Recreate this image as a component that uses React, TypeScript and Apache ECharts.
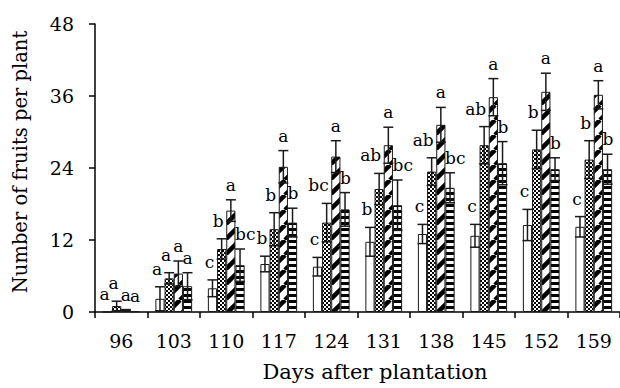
import React, { useEffect, useRef } from 'react';
import * as echarts from 'echarts';

// Days after plantation (categories)
const days = ['96', '103', '110', '117', '124', '131', '138', '145', '152', '159'];

// Four treatments: mean number of fruits per plant
const t1Mean = [0, 2.2, 3.95, 8.0, 7.55, 11.7, 13.0, 12.7, 14.5, 14.2];
const t2Mean = [1.0, 5.6, 10.5, 13.8, 14.9, 20.5, 23.4, 27.8, 27.1, 25.4];
const t3Mean = [0.3, 6.4, 16.9, 24.2, 25.9, 27.8, 31.2, 35.8, 36.7, 36.2];
const t4Mean = [0.1, 4.3, 7.8, 14.9, 17.1, 17.8, 20.7, 24.8, 23.8, 23.8];

// Standard deviations (error bars)
const t1Sd = [0, 2.0, 1.4, 1.3, 1.55, 2.4, 1.6, 1.9, 2.6, 1.7];
const t2Sd = [0.8, 0.95, 1.7, 2.75, 3.2, 2.6, 2.3, 3.1, 3.2, 3.15];
const t3Sd = [0.1, 2.1, 1.8, 2.7, 2.65, 3.0, 2.9, 3.1, 3.1, 2.35];
const t4Sd = [0, 2.25, 2.7, 2.4, 2.8, 4.2, 2.5, 3.6, 1.9, 2.5];

// Significance letters
const t1Letters = ['a', 'a', 'c', 'b', 'c', 'b', 'c', 'c', 'c', 'c'];
const t2Letters = ['a', 'a', 'b', 'b', 'bc', 'ab', 'ab', 'ab', 'b', 'b'];
const t3Letters = ['a', 'a', 'a', 'a', 'a', 'a', 'a', 'a', 'a', 'a'];
const t4Letters = ['a', 'a', 'bc', 'b', 'b', 'bc', 'bc', 'b', 'b', 'b'];

const yTicks = { min: 0, max: 48, interval: 12 };

const FONT = '"DejaVu Serif", serif';

function makeCanvas(w: number, h: number, draw: (ctx: CanvasRenderingContext2D) => void) {
  const c = document.createElement('canvas');
  c.width = w;
  c.height = h;
  const ctx = c.getContext('2d') as CanvasRenderingContext2D;
  ctx.fillStyle = '#fff';
  ctx.fillRect(0, 0, w, h);
  draw(ctx);
  return c;
}

function patterns() {
  const checker = makeCanvas(4, 4, (ctx) => {
    ctx.fillStyle = '#000';
    ctx.fillRect(0, 0, 2, 2);
    ctx.fillRect(2, 2, 2, 2);
  });
  const diag = makeCanvas(15, 15, (ctx) => {
    ctx.strokeStyle = '#000';
    ctx.lineWidth = 4.5;
    for (const k of [-15, 0, 15]) {
      ctx.beginPath();
      ctx.moveTo(k, 15);
      ctx.lineTo(k + 15, 0);
      ctx.stroke();
    }
  });
  const horiz = makeCanvas(4, 6, (ctx) => {
    ctx.fillStyle = '#000';
    ctx.fillRect(0, 0, 4, 3);
  });
  return {
    white: '#ffffff',
    checker: { image: checker, repeat: 'repeat', imageWidth: 4, imageHeight: 4 },
    diag: { image: diag, repeat: 'repeat', imageWidth: 15, imageHeight: 15 },
    horiz: { image: horiz, repeat: 'repeat', imageWidth: 4, imageHeight: 6 },
  };
}

const BAR_FRAC = 0.175;

export default function App() {
  const ref = useRef<HTMLDivElement>(null);
  useEffect(() => {
    if (!ref.current) return;
    document.body.style.margin = '0';
    const chart = echarts.init(ref.current, null, { renderer: 'svg' });
    const p = patterns();
    const means = [t1Mean, t2Mean, t3Mean, t4Mean];
    const sds = [t1Sd, t2Sd, t3Sd, t4Sd];
    const letters = [t1Letters, t2Letters, t3Letters, t4Letters];
    const fills: any[] = [p.white, p.checker, p.diag, p.horiz];
    const labelAlign = ['center', 'right', 'center', 'left'];
    const labelDx = [-3, 2, 0, -5];
    const labelGap = [9.5, 9.5, 6.5, 6.5];

    const barSeries = means.map((m, si) => ({
      type: 'bar',
      name: 'T' + (si + 1),
      data: m,
      barWidth: BAR_FRAC * 100 + '%',
      barGap: '0%',
      z: 2,
      itemStyle: { color: fills[si], borderColor: '#1a1a1a', borderWidth: 1 },
    }));

    const errSeries = means.map((m, si) => ({
      type: 'custom',
      name: 'err' + (si + 1),
      z: 5,
      data: m.map((v, i) => [i, v, sds[si][i]]),
      renderItem: (params: any, api: any) => {
        const ci = api.value(0);
        const mean = api.value(1);
        const sd = api.value(2);
        const band = api.size([1, 0])[0];
        const bw = band * BAR_FRAC;
        const xc = api.coord([ci, 0])[0] + (si - 1.5) * bw;
        const yTop = api.coord([ci, mean + sd])[1];
        const yBot = api.coord([ci, Math.max(mean - sd, 0)])[1];
        const stroke = { stroke: '#1a1a1a', lineWidth: 1.5 };
        const children: any[] = [];
        if (sd > 0) {
          children.push({ type: 'line', shape: { x1: xc, y1: yTop, x2: xc, y2: yBot }, style: stroke });
          children.push({ type: 'line', shape: { x1: xc - 5, y1: yTop, x2: xc + 5, y2: yTop }, style: stroke });
          children.push({ type: 'line', shape: { x1: xc - 5, y1: yBot, x2: xc + 5, y2: yBot }, style: stroke });
        }
        children.push({
          type: 'text',
          x: xc + labelDx[si],
          y: yTop - labelGap[si],
          style: {
            text: letters[si][params.dataIndex],
            fontFamily: FONT,
            fontSize: 17,
            fill: '#000',
            align: labelAlign[si],
            verticalAlign: 'bottom',
          },
        });
        return { type: 'group', children };
      },
    }));

    chart.setOption({
      animation: false,
      grid: { left: 95, top: 24, width: 533, height: 288 },
      xAxis: {
        type: 'category',
        data: days,
        axisLine: { lineStyle: { color: '#000', width: 1.5 } },
        axisTick: { show: true, length: 6, lineStyle: { color: '#000', width: 1.5 } },
        axisLabel: { fontFamily: FONT, fontSize: 19, color: '#000', margin: 19 },
      },
      yAxis: {
        type: 'value',
        min: yTicks.min,
        max: yTicks.max,
        interval: yTicks.interval,
        splitLine: { show: false },
        axisLine: { show: true, lineStyle: { color: '#000', width: 1.5 } },
        axisTick: { show: true, length: 6, lineStyle: { color: '#000', width: 1.5 } },
        axisLabel: { fontFamily: FONT, fontSize: 19, color: '#000', margin: 21 },
      },
      graphic: [
        {
          type: 'text',
          x: 20,
          y: 162,
          rotation: Math.PI / 2,
          style: {
            text: 'Number of fruits per plant',
            fontFamily: FONT,
            fontSize: 19.5,
            fill: '#000',
            align: 'center',
            verticalAlign: 'middle',
          },
        },
        {
          type: 'text',
          x: 375,
          y: 372,
          style: {
            text: 'Days after plantation',
            fontFamily: FONT,
            fontSize: 21,
            fill: '#000',
            align: 'center',
            verticalAlign: 'middle',
          },
        },
      ],
      series: [...barSeries, ...errSeries],
    });
    return () => chart.dispose();
  }, []);
  return <div ref={ref} style={{ width: 620, height: 388 }} />;
}
